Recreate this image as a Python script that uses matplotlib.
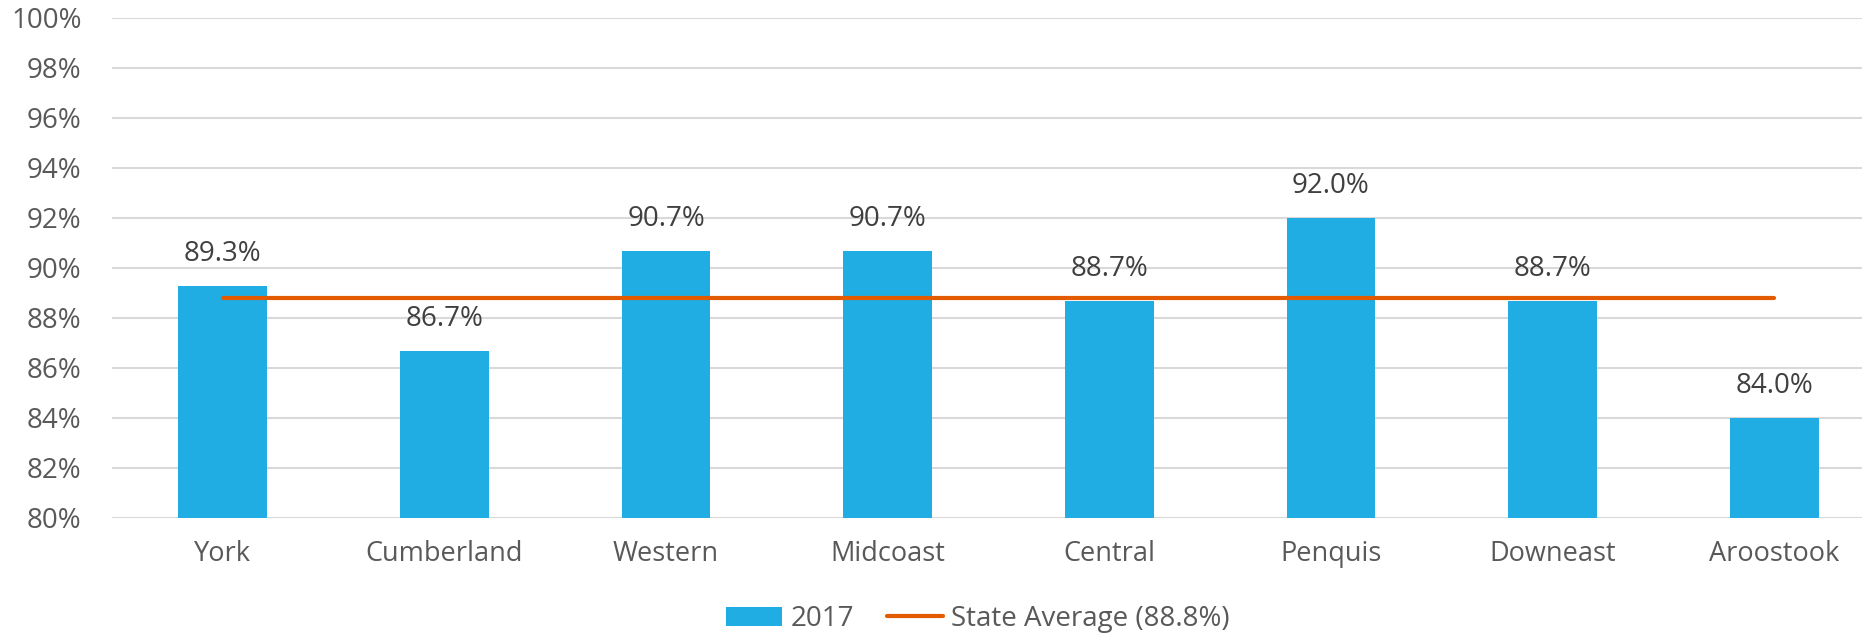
import matplotlib.pyplot as plt
import numpy as np

regions = ['York', 'Cumberland', 'Western', 'Midcoast', 'Central', 'Penquis', 'Downeast', 'Aroostook']
values_2017 = [89.3, 86.7, 90.7, 90.7, 88.7, 92.0, 88.7, 84.0]
state_avg = 88.8

bar_color = '#1FADE4'
line_color = '#E35B00'
plt.rcParams['font.family'] = ['Open Sans', 'DejaVu Sans']

fig = plt.figure(figsize=(18.62, 6.34), dpi=100)
ax = fig.add_axes([112/1862, 1 - 518/634, (1885 - 112)/1862, (518 - 18)/634])

x = np.arange(len(regions))
bars = ax.bar(x, values_2017, width=0.4, color=bar_color, label='2017', zorder=2)
line, = ax.plot(x, [state_avg]*len(x), color=line_color, lw=3, solid_capstyle='round',
                label='State Average (88.8%)', zorder=3)

for xi, v in zip(x, values_2017):
    ax.annotate(f'{v:.1f}%', (xi, v), xytext=(0, 23), textcoords='offset points',
                ha='center', va='center', fontsize=20, color='#404040')

ax.set_ylim(80, 100)
ax.set_xlim(-0.5, 7.5)
ax.set_yticks(np.arange(80, 101, 2))
ax.set_yticklabels([f'{t}%' for t in range(80, 101, 2)])
ax.set_xticks(x)
ax.set_xticklabels(regions)
ax.tick_params(axis='y', length=0, pad=22, labelsize=20, labelcolor='#595959')
ax.tick_params(axis='x', length=0, pad=16, labelsize=19.5, labelcolor='#595959')
ax.grid(axis='y', color='#d9d9d9', lw=1.5, zorder=0)
ax.set_axisbelow(True)
for s in ax.spines.values():
    s.set_visible(False)

fig.legend(handles=[bars, line], loc='center', bbox_to_anchor=(978/1862, 1 - 619/634),
           ncol=2, frameon=False, fontsize=20, labelcolor='#595959',
           handlelength=2.0, handletextpad=0.3, columnspacing=1.2)

fig.savefig('out.png', dpi=100)
